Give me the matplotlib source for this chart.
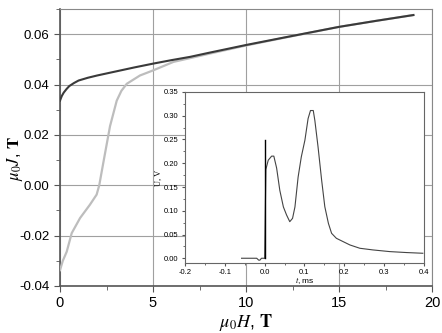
import numpy as np
import matplotlib.pyplot as plt
from matplotlib.ticker import MultipleLocator

# magnetization curves, mu0*H (T) vs mu0*J (T)
h_up = [0.0, 0.05, 0.1, 0.2, 0.35, 0.5, 0.75, 1.0, 1.5, 2.0, 3.0, 4.0, 5.0, 6.0, 7.0, 8.0, 10.0, 12.0, 15.0, 17.0, 19.0]
j_up = [0.0336, 0.0346, 0.0355, 0.0368, 0.0382, 0.0394, 0.0406, 0.0416, 0.0427, 0.0436, 0.0452, 0.0468, 0.0483,
        0.0497, 0.0510, 0.0526, 0.0557, 0.0586, 0.0629, 0.0653, 0.0676]
h_virgin = [0.0, 0.15, 0.36, 0.63, 1.08, 1.61, 1.97, 2.11, 2.33, 2.69, 3.05, 3.3, 3.59, 4.3, 5.0, 6.1, 7.0, 8.0,
            10.0, 12.0, 15.0, 17.0, 19.0]
j_virgin = [-0.0337, -0.030, -0.0264, -0.019, -0.013, -0.0077, -0.0037, 0.0, 0.009, 0.0235, 0.0336, 0.0375,
            0.0403, 0.0436, 0.0456, 0.0490, 0.0505, 0.0522, 0.0555, 0.0585, 0.0629, 0.0653, 0.0676]

# pulse signal, t (ms) vs U (V)
t_pre = [-0.058, -0.02, -0.015, -0.012, -0.008, -0.003, 0.0]
u_pre = [0.0, 0.0, -0.004, -0.004, 0.0, 0.0, 0.0]
t_sig = [0.0, 0.003, 0.009, 0.0175, 0.023, 0.030, 0.038, 0.047, 0.055, 0.063, 0.070, 0.076, 0.084, 0.092,
         0.101, 0.109, 0.115, 0.122, 0.126, 0.134, 0.143, 0.151, 0.160, 0.168, 0.180, 0.197, 0.214,
         0.239, 0.272, 0.314, 0.356, 0.397]
u_sig = [0.0, 0.187, 0.2065, 0.215, 0.215, 0.19, 0.143, 0.108, 0.091, 0.077, 0.084, 0.108, 0.171, 0.2135,
         0.2485, 0.294, 0.311, 0.311, 0.29, 0.2345, 0.1645, 0.1085, 0.0735, 0.0525, 0.042, 0.035, 0.028,
         0.021, 0.0175, 0.014, 0.012, 0.0105]
spike_t = [0.0, 0.0]
spike_u = [0.0, 0.25]

plt.rcParams['font.family'] = ['Liberation Sans', 'DejaVu Sans']
plt.rcParams['mathtext.fontset'] = 'stix'

fig = plt.figure(figsize=(4.42, 3.33), dpi=100)
ax = fig.add_axes([60 / 442, 47 / 333, 372 / 442, 277 / 333])

ax.plot(h_virgin, j_virgin, color='#bdbdbd', lw=1.6, zorder=3)
ax.plot(h_up, j_up, color='#3a3a3a', lw=1.5, zorder=4)

ax.set_xlim(0, 20)
ax.set_ylim(-0.04, 0.07)
ax.xaxis.set_major_locator(MultipleLocator(5))
ax.xaxis.set_minor_locator(MultipleLocator(2.5))
ax.yaxis.set_major_locator(MultipleLocator(0.02))
ax.yaxis.set_minor_locator(MultipleLocator(0.01))
ax.yaxis.set_major_formatter(plt.FormatStrFormatter('%.2f'))
ax.grid(True, which='major', color='#a0a0a0', lw=0.8)
ax.tick_params(which='both', direction='out', labelsize=9.5, color='#555555')
ax.tick_params(axis='x', labelsize=10.5)
ax.tick_params(which='major', length=4)
ax.tick_params(which='minor', length=3)
for side in ['top', 'right']:
    ax.spines[side].set_color('#888888')
for side in ['left', 'bottom']:
    ax.spines[side].set_color('#555555')
    ax.spines[side].set_linewidth(1.2)

ax.set_xlabel(r'$\mu_0H$, $\mathbf{T}$', fontsize=13, labelpad=1)
ax.set_ylabel(r'$\mu_0J$, $\mathbf{T}$', fontsize=12)
ax.yaxis.set_label_coords(-0.095, 0.46)

# inset with the voltage pulse
ins = fig.add_axes([185 / 442, (333 - 263) / 333, 239 / 442, 171 / 333])
ins.set_facecolor('white')
ins.plot(t_pre, u_pre, color='#444444', lw=0.8)
ins.plot(t_sig, u_sig, color='#444444', lw=0.8)
ins.plot(spike_t, spike_u, color='black', lw=1.0)
ins.set_xlim(-0.2, 0.4)
ins.set_ylim(-0.01, 0.35)
ins.xaxis.set_major_locator(MultipleLocator(0.1))
ins.xaxis.set_minor_locator(MultipleLocator(0.05))
ins.yaxis.set_major_locator(MultipleLocator(0.05))
ins.yaxis.set_minor_locator(MultipleLocator(0.025))
ins.xaxis.set_major_formatter(plt.FormatStrFormatter('%.1f'))
ins.yaxis.set_major_formatter(plt.FormatStrFormatter('%.2f'))
ins.tick_params(which='both', direction='out', labelsize=5.5, pad=2, color='#555555')
ins.tick_params(which='major', length=2.5)
ins.tick_params(which='minor', length=1.5)
for side in ins.spines.values():
    side.set_color('#666666')
    side.set_linewidth(0.8)
ins.set_xlabel(r'$t$, ms', fontsize=6, labelpad=-1)
ins.set_ylabel('U, V', fontsize=6, labelpad=1, family=['Liberation Serif'])

fig.savefig('out.png', dpi=100)
